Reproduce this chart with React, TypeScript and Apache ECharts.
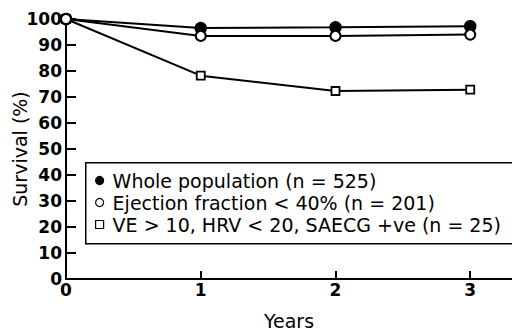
import React, { useEffect, useRef } from "react";
import * as echarts from "echarts";

const years = [0, 1, 2, 3];
const wholePopulation = [100, 96.5, 96.8, 97.2];
const ejectionFraction = [100, 93.5, 93.5, 94];
const combinedRisk = [100, 78.2, 72.3, 72.8];
const seriesNames = [
  "Whole population (n = 525)",
  "Ejection fraction < 40% (n = 201)",
  "VE > 10, HRV < 20, SAECG +ve (n = 25)",
];

const FONT = "'DejaVu Sans', sans-serif";

export default function App() {
  const ref = useRef<HTMLDivElement>(null);
  useEffect(() => {
    document.body.style.margin = "0";
    const chart = echarts.init(ref.current!, null, { renderer: "svg" });
    const pts = (vals: number[]) => years.map((x, i) => [x, vals[i]]);
    chart.setOption({
      animation: false,
      backgroundColor: "#fff",
      textStyle: { fontFamily: FONT, color: "#000" },
      grid: { left: 66, right: 0, top: 19, bottom: 51, containLabel: false, outerBoundsMode: "none" },
      graphic: [
        {
          type: "rect",
          left: 85,
          top: 162,
          shape: { width: 500, height: 81 },
          style: { fill: "#fff", stroke: "#000", lineWidth: 1.5 },
          z: 5,
        },
      ],
      xAxis: {
        type: "value",
        min: 0,
        max: 3.31,
        interval: 1,
        name: "Years",
        nameLocation: "middle",
        nameGap: 32,
        nameMoveOverlap: false,
        nameTextStyle: { fontSize: 19, fontFamily: FONT, color: "#000" },
        axisLine: { show: true, onZero: false, lineStyle: { color: "#000", width: 2 } },
        axisTick: { show: true, inside: true, length: 8, lineStyle: { color: "#000", width: 2 } },
        axisLabel: {
          fontSize: 17,
          fontWeight: "bold",
          fontFamily: FONT,
          color: "#000",
          margin: 2,
          showMaxLabel: false,
          formatter: (v: number) => (Number.isInteger(v) ? String(v) : ""),
        },
        splitLine: { show: false },
      },
      yAxis: {
        type: "value",
        min: 0,
        max: 100,
        interval: 10,
        name: "Survival (%)",
        nameLocation: "middle",
        nameGap: 37,
        nameMoveOverlap: false,
        nameRotate: 90,
        nameTextStyle: { fontSize: 19, fontFamily: FONT, color: "#000" },
        axisLine: { show: true, lineStyle: { color: "#000", width: 2 } },
        axisTick: { show: true, inside: true, length: 10, lineStyle: { color: "#000", width: 2 } },
        axisLabel: { fontSize: 17, fontWeight: "bold", fontFamily: FONT, color: "#000", margin: 4 },
        splitLine: { show: false },
      },
      legend: {
        orient: "vertical",
        left: 95,
        top: 171,
        padding: 0,
        itemGap: 3,
        itemWidth: 8,
        itemHeight: 8,
        z: 6,
        textStyle: { fontSize: 19, fontFamily: FONT, color: "#000", padding: [0, 0, 0, 4] },
        data: [
          { name: seriesNames[0], icon: "circle", itemStyle: { color: "#000", borderColor: "#000", borderWidth: 1.2 } },
          { name: seriesNames[1], icon: "circle", itemStyle: { color: "#fff", borderColor: "#000", borderWidth: 1.2 } },
          { name: seriesNames[2], icon: "rect", itemStyle: { color: "#fff", borderColor: "#000", borderWidth: 1.2 } },
        ],
      },
      series: [
        {
          name: seriesNames[0],
          type: "line",
          data: pts(wholePopulation),
          symbol: "circle",
          symbolSize: 11,
          lineStyle: { color: "#000", width: 2 },
          itemStyle: { color: "#000", borderColor: "#000", borderWidth: 1.5 },
          z: 3,
        },
        {
          name: seriesNames[1],
          type: "line",
          data: pts(ejectionFraction),
          symbol: "circle",
          symbolSize: 10,
          lineStyle: { color: "#000", width: 2 },
          itemStyle: { color: "#fff", borderColor: "#000", borderWidth: 2 },
          z: 4,
        },
        {
          name: seriesNames[2],
          type: "line",
          data: pts(combinedRisk),
          symbol: "rect",
          symbolSize: 8,
          lineStyle: { color: "#000", width: 2 },
          itemStyle: { color: "#fff", borderColor: "#000", borderWidth: 1.8 },
          z: 2,
        },
      ],
    });
    return () => chart.dispose();
  }, []);
  return <div ref={ref} style={{ position: "absolute", left: 0, top: 0, width: 512, height: 330 }} />;
}
